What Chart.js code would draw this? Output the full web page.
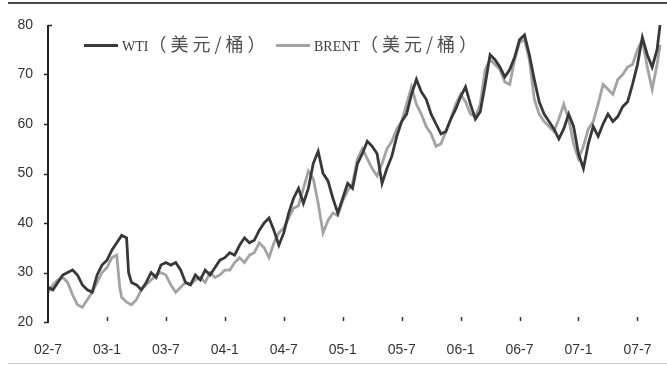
<!DOCTYPE html>
<html>
<head>
<meta charset="utf-8">
<script src="https://cdn.jsdelivr.net/npm/chart.js@4"></script>
<style>
  html, body { margin: 0; padding: 0; background: #fff; }
  #wrap { position: relative; width: 667px; height: 365px; overflow: hidden; }
  #wrap canvas { position: absolute; left: 0; top: 0; }
  .rule { position: absolute; left: 8px; right: 0; z-index: 2; }
  .leg { position: absolute; top: 30px; height: 26px; line-height: 26px; z-index: 2; font: 14px "Liberation Serif", serif; color: #3c3c3c; white-space: nowrap; }
  .leg i { display: inline-block; width: 34px; height: 3px; vertical-align: middle; margin-right: 4px; margin-top: -4px; }
  .leg span.cn { font-family: "Noto Sans CJK SC", sans-serif; font-size: 18px; letter-spacing: 4px; color: #505050; }
</style>
</head>
<body>
<div id="wrap">
  <canvas id="oilChart" width="667" height="365"></canvas>
  <div class="rule" style="top:2px;height:2px;background:#4a4a4a"></div>
  <div class="rule" style="top:363px;height:1px;background:#c8c8c8"></div>
  <div class="leg" style="left:84px"><i style="background:#3a3a3a"></i>WTI<span class="cn">（美元/桶）</span></div>
  <div class="leg" style="left:276px"><i style="background:#a3a3a3"></i>BRENT<span class="cn">（美元/桶）</span></div>
</div>
<script>
// months counted from Jul 2002
const tickMonths = [0, 6, 12, 18, 24, 30, 36, 42, 48, 54, 60];
const tickLabels = ["02-7", "03-1", "03-7", "04-1", "04-7", "05-1", "05-7", "06-1", "06-7", "07-1", "07-7"];
const yTicks = [20, 30, 40, 50, 60, 70, 80];

const wtiMonths = [0, 0.5, 1, 1.5, 2, 2.5, 3, 3.5, 4, 4.5, 5, 5.5, 6, 6.5, 7, 7.5, 8, 8.2, 8.5, 9, 9.5, 10, 10.5, 11, 11.5, 12, 12.5, 13, 13.5, 14, 14.5, 15, 15.5, 16, 16.5, 17, 17.5, 18, 18.5, 19, 19.5, 20, 20.5, 21, 21.5, 22, 22.5, 23, 23.5, 24, 24.5, 25, 25.5, 26, 26.5, 27, 27.5, 28, 28.5, 29, 29.5, 30, 30.5, 31, 31.5, 32, 32.5, 33, 33.5, 34, 34.5, 35, 35.5, 36, 36.5, 37, 37.5, 38, 38.5, 39, 39.5, 40, 40.5, 41, 41.5, 42, 42.5, 43, 43.5, 44, 44.5, 45, 45.5, 46, 46.5, 47, 47.5, 48, 48.5, 49, 49.5, 50, 50.5, 51, 51.5, 52, 52.5, 53, 53.5, 54, 54.5, 55, 55.5, 56, 56.5, 57, 57.5, 58, 58.5, 59, 59.5, 60, 60.5, 61, 61.5, 62, 62.3];
const wti = [27, 26.5, 28, 29.5, 30, 30.5, 29.5, 27.5, 26.5, 26, 29.5, 31.5, 32.5, 34.5, 36, 37.5, 37, 30, 28, 27.5, 26.5, 28, 30, 29, 31.5, 32, 31.5, 32, 30.5, 28, 27.5, 29.5, 28.5, 30.5, 29.5, 31, 32.5, 33, 34, 33.5, 35.5, 37, 36, 36.5, 38.5, 40, 41, 38.5, 35.5, 38, 42, 45, 47, 44, 47, 52, 54.5, 50, 48.5, 45, 42, 45, 48, 47, 52, 54, 56.5, 55.5, 54, 48, 51, 53.5, 57.5, 60.5, 62, 66, 69, 66.5, 65, 62, 60, 58, 58.5, 61, 63, 65.5, 67.5, 64, 61, 62.5, 68, 74, 73, 71.5, 69.5, 71, 73.5, 77, 78, 74, 69, 64.5, 62, 60.5, 59, 57, 59, 62, 59.5, 54, 51, 56, 59.5, 57.5, 60, 62, 60.5, 61.5, 63.5, 64.5, 68, 72, 77.5, 74, 71.5, 75, 80];

const brentMonths = [0, 0.5, 1, 1.5, 2, 2.5, 3, 3.5, 4, 4.5, 5, 5.5, 6, 6.5, 7, 7.3, 7.5, 8, 8.5, 9, 9.5, 10, 10.5, 11, 11.5, 12, 12.5, 13, 13.5, 14, 14.5, 15, 15.5, 16, 16.5, 17, 17.5, 18, 18.5, 19, 19.5, 20, 20.5, 21, 21.5, 22, 22.5, 23, 23.5, 24, 24.5, 25, 25.5, 26, 26.5, 27, 27.5, 28, 28.5, 29, 29.5, 30, 30.5, 31, 31.5, 32, 32.5, 33, 33.5, 34, 34.5, 35, 35.5, 36, 36.5, 37, 37.5, 38, 38.5, 39, 39.5, 40, 40.5, 41, 41.5, 42, 42.5, 43, 43.5, 44, 44.5, 45, 45.5, 46, 46.5, 47, 47.5, 48, 48.5, 49, 49.5, 50, 50.5, 51, 51.5, 52, 52.5, 53, 53.5, 54, 54.5, 55, 55.5, 56, 56.5, 57, 57.5, 58, 58.5, 59, 59.5, 60, 60.5, 61, 61.5, 62, 62.3];
const brent = [26, 27.5, 28.5, 29, 28, 25.5, 23.5, 23, 24.5, 26, 28, 30, 31, 33, 33.5, 27, 25, 24, 23.5, 24.5, 26.5, 27.5, 28.5, 29.5, 30, 29.5, 27.5, 26, 27, 28, 27.5, 28.5, 29, 28, 30, 29, 29.5, 30.5, 30.5, 32, 33, 32, 33.5, 34, 36, 35, 33, 36, 38, 39, 41, 43, 43.5, 47, 50.5, 49, 44, 38, 40.5, 42, 41.5, 44.5, 46.5, 48, 53, 55, 53, 51, 49.5, 52, 55, 56.5, 59, 60.5, 64, 67.5, 64, 62, 59.5, 58, 55.5, 56, 58.5, 61, 64, 66, 64.5, 62, 61.5, 64, 71, 73, 72, 71, 68.5, 68, 73, 76.5, 77, 73, 65, 62, 60.5, 59.5, 58.5, 61, 64, 61, 56, 53, 55.5, 59, 60.5, 64, 68, 67, 66, 69, 70, 71.5, 72, 75, 77, 71.5, 67, 72, 76];

const toPoints = (xs, ys) => xs.map((x, i) => ({ x: x, y: ys[i] }));

// y axis line with short ticks, and small x tick marks just above the bottom edge
const axisMarks = {
  id: "axisMarks",
  afterDraw(chart) {
    const ctx = chart.ctx;
    const xs = chart.scales.x;
    const ys = chart.scales.y;
    const area = chart.chartArea;
    ctx.save();
    ctx.strokeStyle = "#222";
    ctx.lineWidth = 2;
    ctx.beginPath();
    ctx.moveTo(area.left, area.top);
    ctx.lineTo(area.left, area.bottom + 1);
    ctx.stroke();
    ctx.lineWidth = 1.5;
    yTicks.forEach(v => {
      const py = Math.round(ys.getPixelForValue(v)) + 0.5;
      ctx.beginPath();
      if (v === 80) {
        ctx.moveTo(area.left, py);
        ctx.lineTo(area.left + 4, py);
      } else {
        ctx.moveTo(area.left - 4, py);
        ctx.lineTo(area.left, py);
      }
      ctx.stroke();
    });
    ctx.strokeStyle = "#333";
    tickMonths.slice(1).forEach(m => {
      const px = Math.round(xs.getPixelForValue(m)) + 0.5;
      ctx.beginPath();
      ctx.moveTo(px, area.bottom - 5);
      ctx.lineTo(px, area.bottom - 1);
      ctx.stroke();
    });
    ctx.restore();
  }
};

new Chart(document.getElementById("oilChart"), {
  type: "line",
  data: {
    datasets: [
      {
        label: "WTI（美元/桶）",
        data: toPoints(wtiMonths, wti),
        borderColor: "#383838",
        borderWidth: 2.8,
        pointRadius: 0,
        tension: 0,
        order: 1
      },
      {
        label: "BRENT（美元/桶）",
        data: toPoints(brentMonths, brent),
        borderColor: "#a3a3a3",
        borderWidth: 2.8,
        pointRadius: 0,
        tension: 0,
        order: 2
      }
    ]
  },
  options: {
    responsive: false,
    animation: false,
    layout: { padding: { top: 25, right: 5, left: 0, bottom: 0 } },
    plugins: { legend: { display: false }, tooltip: { enabled: false } },
    scales: {
      x: {
        type: "linear",
        min: 0,
        max: 62.5,
        afterBuildTicks: scale => { scale.ticks = tickMonths.map(v => ({ value: v })); },
        afterFit: scale => { scale.height = 43; },
        grid: { display: false },
        border: { display: false },
        ticks: {
          autoSkip: false,
          maxRotation: 0,
          padding: 12,
          color: "#333",
          font: { family: "Liberation Sans", size: 14 },
          callback: v => tickLabels[tickMonths.indexOf(v)] || ""
        }
      },
      y: {
        min: 20,
        max: 80,
        afterBuildTicks: scale => { scale.ticks = yTicks.map(v => ({ value: v })); },
        afterFit: scale => { scale.width = 48; },
        grid: { display: false },
        border: { display: false },
        ticks: {
          padding: 7,
          color: "#333",
          font: { family: "Liberation Sans", size: 14 }
        }
      }
    }
  },
  plugins: [axisMarks]
});
</script>
</body>
</html>
